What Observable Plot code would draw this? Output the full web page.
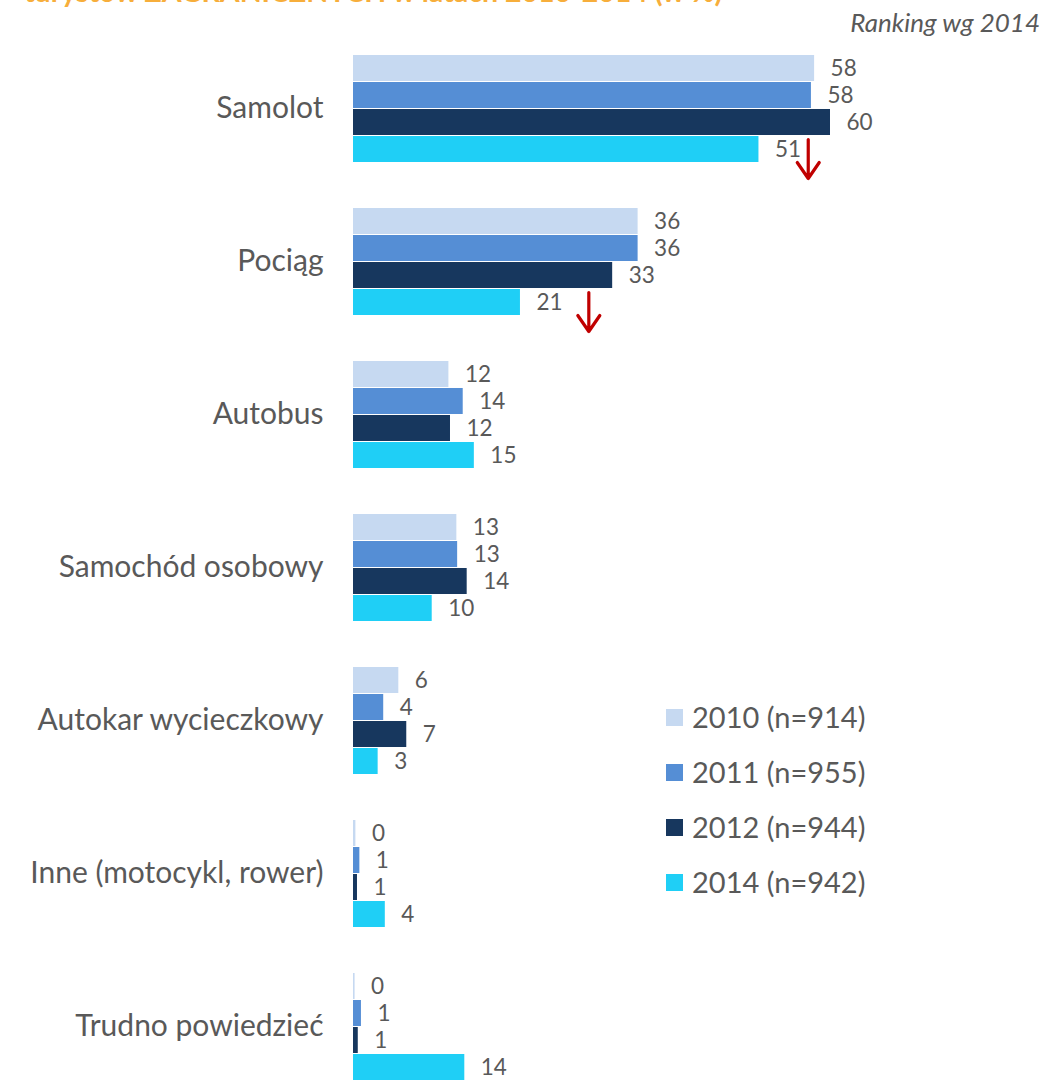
<!DOCTYPE html>
<html>
<head>
<meta charset="utf-8">
<script src="https://cdn.jsdelivr.net/npm/d3@7"></script>
<script src="https://cdn.jsdelivr.net/npm/@observablehq/plot@0.6"></script>
<style>
  html, body { margin: 0; padding: 0; background: #fff; }
  #wrap { position: relative; width: 1056px; height: 1083px; overflow: hidden; font-family: Lato, sans-serif; }
  #title { position: absolute; left: 24px; top: -23px; font-size: 28.5px; line-height: 28.5px; font-weight: bold; color: #F7AE3B; white-space: nowrap; }
  #sub { position: absolute; right: 16px; top: 9px; font-size: 26px; line-height: 26px; font-style: italic; color: #595959; white-space: nowrap; }
  #legend { position: absolute; left: 666px; top: 703px; }
  .row { display: flex; align-items: center; height: 28px; margin-bottom: 27px; font-size: 29px; line-height: 28px; color: #595959; white-space: nowrap; }
  .sw { width: 17px; height: 17px; margin-right: 9px; }
  #chart { position: absolute; left: 0; top: 0; }
</style>
</head>
<body>
<div id="wrap">
  <div id="chart"></div>
  <div id="title"></div>
  <div id="sub"></div>
  <div id="legend"></div>
</div>
<script>
const titleText = "turystów ZAGRANICZNYCH w latach 2010-2014 (w %)";
const subtitleText = "Ranking wg 2014";
const categories = ["Samolot", "Pociąg", "Autobus", "Samochód osobowy", "Autokar wycieczkowy", "Inne (motocykl, rower)", "Trudno powiedzieć"];
const years = ["2010", "2011", "2012", "2014"];
const legendLabels = ["2010 (n=914)", "2011 (n=955)", "2012 (n=944)", "2014 (n=942)"];
const colors = ["#C6D9F1", "#558ED5", "#17375E", "#1FCFF6"];
const v2010 = [58, 35.8, 12, 13, 5.7, 0.3, 0.2];
const v2011 = [57.6, 35.8, 13.8, 13.1, 3.8, 0.8, 1];
const v2012 = [60, 32.6, 12.2, 14.3, 6.7, 0.5, 0.6];
const v2014 = [51, 21, 15.2, 9.9, 3.1, 4, 14];
const arrowCats = ["Samolot", "Pociąg"];
const arrowX = [57.2, 29.6];

const series = [v2010, v2011, v2012, v2014];
const rows = categories.flatMap((c, i) => years.map((y, j) => ({cat: c, year: y, value: series[j][i]})));
const catRows = categories.map(c => ({cat: c}));
const arrows = arrowCats.map((c, i) => ({cat: c, x: arrowX[i], year: "2014"}));

const arrowShape = {
  draw(context, l) {
    const w = 11, h = 16;
    context.moveTo(0, 0);
    context.lineTo(0, -l);
    context.moveTo(-w, h - l);
    context.lineTo(0, -l);
    context.lineTo(w, h - l);
  }
};

const chart = Plot.plot({
  width: 1056,
  height: 1083,
  marginTop: 51,
  marginBottom: 0,
  marginLeft: 353,
  marginRight: 67,
  style: {fontFamily: "Lato, sans-serif", background: "transparent"},
  x: {domain: [0, 80], axis: null},
  y: {domain: years, axis: null, paddingInner: 0.04, paddingOuter: 0},
  fy: {domain: categories, axis: null, paddingInner: 0.28, paddingOuter: 0},
  color: {domain: years, range: colors},
  marks: [
    Plot.barX(rows, {x: "value", y: "year", fy: "cat", fill: "year"}),
    Plot.text(rows, {x: "value", y: "year", fy: "cat", text: d => String(Math.round(d.value)), textAnchor: "start", dx: 16, fontSize: 22.5, fill: "#595959"}),
    Plot.text(catRows, {fy: "cat", text: "cat", frameAnchor: "left", textAnchor: "end", dx: -30, fontSize: 30, fill: "#595959"}),
    Plot.vector(arrows, {x: "x", y: "year", fy: "cat", length: 39, rotate: 180, anchor: "start", shape: arrowShape, stroke: "#C00000", strokeWidth: 3.2, dy: -10})
  ]
});
document.getElementById("chart").appendChild(chart);

document.getElementById("title").textContent = titleText;
document.getElementById("sub").textContent = subtitleText;
const legend = document.getElementById("legend");
legendLabels.forEach((lab, i) => {
  const row = document.createElement("div");
  row.className = "row";
  const sw = document.createElement("div");
  sw.className = "sw";
  sw.style.background = colors[i];
  const t = document.createElement("span");
  t.textContent = lab;
  row.appendChild(sw);
  row.appendChild(t);
  legend.appendChild(row);
});
</script>
</body>
</html>
